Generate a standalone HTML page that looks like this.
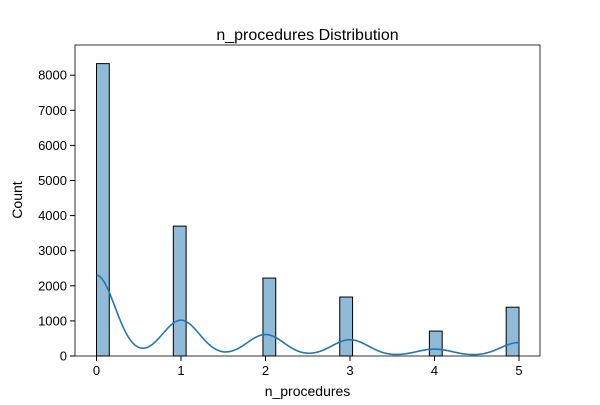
<!DOCTYPE html>
<html><head><meta charset="utf-8"><style>
body{margin:0;background:#fff;}
svg text{font-family:"Liberation Sans","DejaVu Sans",sans-serif;fill:#000;}
</style></head><body>
<svg id="chart" width="600" height="400" xmlns="http://www.w3.org/2000/svg">
<rect width="600" height="400" fill="#fff"/>
<g id="bars"></g><g id="kde"></g><g id="axes"></g>
<rect x="75" y="45" width="465" height="311" fill="none" stroke="#000" stroke-width="0.8"/>
<text x="307.5" y="40" font-size="16" text-anchor="middle">n_procedures Distribution</text>
<text x="307.5" y="396" font-size="14" text-anchor="middle">n_procedures</text>
<text x="22" y="200" font-size="14" text-anchor="middle" transform="rotate(-90 22 200)">Count</text>
</svg>
<script>
const categories=[0,1,2,3,4,5];
const counts=[8330,3700,2220,1680,710,1390];
const xTicks=[0,1,2,3,4,5];
const yTicks=[0,1000,2000,3000,4000,5000,6000,7000,8000];
const NS="http://www.w3.org/2000/svg";
const nBins=33, binW=5/nBins, bw=0.219;
function xs(v){return 96.5+v*84.5;}
function ys(v){return 356-v*0.0351;}
const bars=document.getElementById('bars');
categories.forEach((c,i)=>{
  const r=document.createElementNS(NS,'rect');
  const bi=Math.min(Math.floor(c/binW+1e-9),nBins-1);
  const bx=bi*binW;
  r.setAttribute('x',xs(bx));r.setAttribute('y',ys(counts[i]));
  r.setAttribute('width',xs(bx+binW)-xs(bx));r.setAttribute('height',ys(0)-ys(counts[i]));
  r.setAttribute('fill','rgba(31,119,180,0.5)');r.setAttribute('stroke','#000');r.setAttribute('stroke-width','1');
  
  
  bars.appendChild(r);
});
let d='';
for(let k=0;k<=300;k++){
  const x=5*k/300;let y=0;
  categories.forEach((c,i)=>{y+=counts[i]*binW*Math.exp(-0.5*((x-c)/bw)**2)/(Math.sqrt(2*Math.PI)*bw);});
  d+=(k?'L':'M')+xs(x).toFixed(2)+','+ys(y).toFixed(2);
}
const p=document.createElementNS(NS,'path');
p.setAttribute('d',d);p.setAttribute('fill','none');p.setAttribute('stroke','#1f77b4');p.setAttribute('stroke-width','1.6');


document.getElementById('kde').appendChild(p);
const ax=document.getElementById('axes');
xTicks.forEach(t=>{
  const l=document.createElementNS(NS,'line');
  l.setAttribute('x1',xs(t));l.setAttribute('x2',xs(t));l.setAttribute('y1',356);l.setAttribute('y2',361);l.setAttribute('stroke','#000');
  
  
  ax.appendChild(l);
  const tx=document.createElementNS(NS,'text');
  tx.setAttribute('x',xs(t));tx.setAttribute('y',375);tx.setAttribute('font-size','13');tx.setAttribute('text-anchor','middle');tx.textContent=t;
  
  
  ax.appendChild(tx);
});
yTicks.forEach(t=>{
  const l=document.createElementNS(NS,'line');
  l.setAttribute('x1',70);l.setAttribute('x2',75);l.setAttribute('y1',ys(t));l.setAttribute('y2',ys(t));l.setAttribute('stroke','#000');
  
  
  ax.appendChild(l);
  const tx=document.createElementNS(NS,'text');
  tx.setAttribute('x',67);tx.setAttribute('y',ys(t)+4.5);tx.setAttribute('font-size','13');tx.setAttribute('text-anchor','end');tx.textContent=t;
  
  
  ax.appendChild(tx);
});
</script>
</body></html>
